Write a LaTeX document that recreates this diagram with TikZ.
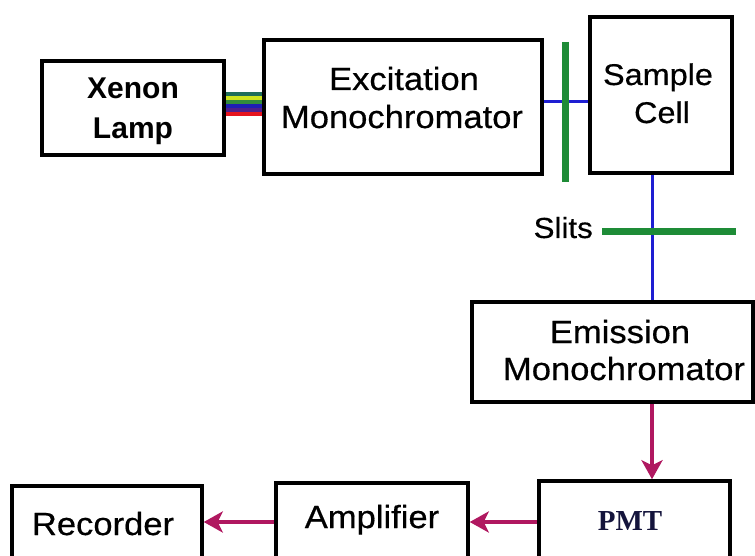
\documentclass[tikz,border=0pt]{standalone}
\usepackage{fontspec}
\setmainfont{Liberation Sans}
\newfontfamily\lblfont[FakeStretch=1.08,FakeBold=0.5]{Liberation Sans}
\newfontfamily\pmtfont{Liberation Serif}
\usetikzlibrary{arrows.meta}
\definecolor{magc}{RGB}{176,24,96}
\definecolor{bluec}{RGB}{30,30,210}
\definecolor{greenc}{RGB}{30,140,55}
\definecolor{rbA}{RGB}{30,110,90}
\definecolor{rbB}{RGB}{205,228,30}
\definecolor{rbC}{RGB}{50,140,60}
\definecolor{rbD}{RGB}{30,30,180}
\definecolor{rbE}{RGB}{80,30,140}
\definecolor{rbF}{RGB}{230,20,30}
\definecolor{pmtc}{RGB}{20,20,60}
\begin{document}
\begin{tikzpicture}[x=1pt,y=-1pt,
  box/.style={draw=black,line width=3.5pt,inner sep=0pt},
  lbl/.style={anchor=base,inner sep=0pt,font=\lblfont\fontsize{32}{38}\selectfont},
  blbl/.style={anchor=base,inner sep=0pt,font=\bfseries\fontsize{30}{36}\selectfont},
  beam/.style={draw=bluec,line width=3pt},
  slitline/.style={draw=greenc,line width=7pt},
  sig/.style={draw=magc,line width=3.5pt,-{Stealth[length=19pt,width=21pt,inset=5pt]}},
  ray/.style={line width=4.2pt}]
\useasboundingbox (0,0) rectangle (755,556);
\clip (0,0) rectangle (755,556);
% boxes
\node[box,minimum width=182pt,minimum height=94pt] (xenon) at (133,108) {};
\node[box,minimum width=278pt,minimum height=134pt] (excit) at (403,107) {};
\node[box,minimum width=142pt,minimum height=156pt] (sample) at (661,95) {};
\node[box,minimum width=281pt,minimum height=100pt] (emis) at (612.5,352) {};
\node[box,minimum width=191pt,minimum height=119pt] (pmt) at (634.5,540.5) {};
\node[box,minimum width=192pt,minimum height=117pt] (amp) at (372,541.5) {};
\node[box,minimum width=190pt,minimum height=114pt] (rec) at (107,543) {};
% labels
\node[blbl] (xenonA) at (133,99) {Xenon};
\node[blbl] (xenonB) at (133,139) {Lamp};
\node[lbl] (excitA) at (404,90) {Excitation};
\node[lbl] (excitB) at (402,128) {Monochromator};
\node[lbl,font=\lblfont\fontsize{30}{36}\selectfont] (sampleA) at (658,85) {Sample};
\node[lbl,font=\lblfont\fontsize{30}{36}\selectfont] (sampleB) at (662,123) {Cell};
\node[lbl,anchor=base east,font=\lblfont\fontsize{29}{34}\selectfont] (slits) at (593,238) {Slits};
\node[lbl] (emisA) at (620,343) {Emission};
\node[lbl] (emisB) at (624,380) {Monochromator};
\node[anchor=base,inner sep=0pt,text=pmtc,font=\pmtfont\bfseries\fontsize{29}{34}\selectfont] (pmtA) at (630,530) {PMT};
\node[lbl] (ampA) at (372,528) {Amplifier};
\node[lbl] (recA) at (103,535) {Recorder};
% light from lamp
\foreach \c/\dy in {rbA/-14,rbB/-10,rbC/-6,rbD/-2,rbE/2,rbF/6}{
  \draw[ray,draw=\c] ([yshift=-\dy pt]xenon.east) -- ([yshift=-\dy pt]xenon.east -| excit.west);
}
% beams
\draw[beam] ([yshift=5pt]excit.east) -- ([yshift=5pt]excit.east -| sample.west);
\draw[beam] ([xshift=-9pt]sample.south) -- ([xshift=-9pt]sample.south |- emis.north);
% slits
\coordinate (slitAtop) at (565,42);
\coordinate (slitAbot) at (565,182);
\coordinate (slitBl) at (602,232);
\coordinate (slitBr) at (736,232);
\draw[slitline] (slitAtop) -- (slitAbot);
\draw[slitline] (slitBl) -- (slitBr);
% signal arrows
\coordinate (ax) at (652,0);
\coordinate (ay) at (0,522);
\draw[sig] (emis.south -| ax) -- (pmt.north -| ax);
\draw[sig] (pmt.west |- ay) -- (amp.east |- ay);
\draw[sig] (amp.west |- ay) -- (rec.east |- ay);
\end{tikzpicture}
\end{document}
